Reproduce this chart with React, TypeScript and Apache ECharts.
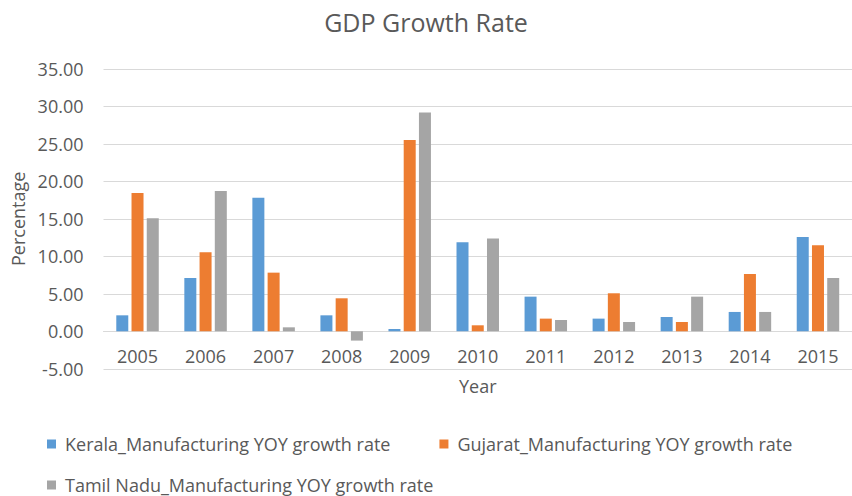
import React, { useEffect, useRef } from "react";
import * as echarts from "echarts";

const years = ["2005", "2006", "2007", "2008", "2009", "2010", "2011", "2012", "2013", "2014", "2015"];
const kerala = [2.13, 7.11, 17.82, 2.13, 0.31, 11.87, 4.62, 1.69, 1.91, 2.58, 12.58];
const gujarat = [18.44, 10.53, 7.82, 4.4, 25.5, 0.8, 1.69, 5.07, 1.24, 7.64, 11.47];
const tamilNadu = [15.07, 18.71, 0.53, -1.24, 29.16, 12.36, 1.51, 1.24, 4.62, 2.58, 7.11];
const seriesNames = [
  "Kerala_Manufacturing YOY growth rate",
  "Gujarat_Manufacturing YOY growth rate",
  "Tamil Nadu_Manufacturing YOY growth rate",
];
const colors = ["#5B9BD5", "#ED7D31", "#A5A5A5"];

const FONT = "'Open Sans', sans-serif";
const TXT = "#595959";

export default function App() {
  const ref = useRef<HTMLDivElement>(null);
  useEffect(() => {
    if (!ref.current) return;
    const chart = echarts.init(ref.current, null, { renderer: "svg" });
    const mk = (name: string, data: number[], color: string) => ({
      name,
      type: "bar",
      data,
      barWidth: 12,
      barGap: "27%",
      itemStyle: { color },
    });
    chart.setOption({
      animation: false,
      textStyle: { fontFamily: FONT },
      title: {
        text: "GDP Growth Rate",
        left: "center",
        top: 4,
        textStyle: { fontFamily: FONT, fontSize: 25, fontWeight: "normal", color: TXT },
      },
      legend: [
        {
          data: [seriesNames[0], seriesNames[1]],
          left: 47,
          top: 435,
          padding: 0,
          itemWidth: 9,
          itemHeight: 9,
          itemGap: 49,
          icon: "rect",
          textStyle: { fontFamily: FONT, fontSize: 18, color: TXT, padding: [0, 0, 0, 4] },
        },
        {
          data: [seriesNames[2]],
          left: 47,
          top: 476,
          padding: 0,
          itemWidth: 9,
          itemHeight: 9,
          icon: "rect",
          textStyle: { fontFamily: FONT, fontSize: 18, color: TXT, padding: [0, 0, 0, 4] },
        },
      ],
      grid: { left: 103.5, right: -10.5, top: 68.8, bottom: 127.2, containLabel: false },
      xAxis: {
        type: "category",
        data: years,
        position: "bottom",
        offset: -37.5,
        name: "Year",
        nameLocation: "middle",
        nameGap: 46,
        nameTextStyle: { fontFamily: FONT, fontSize: 18, color: TXT },
        axisLine: { onZero: false, lineStyle: { color: "#D9D9D9", width: 1 } },
        axisTick: { show: false },
        axisLabel: { fontFamily: FONT, fontSize: 18, color: TXT, margin: 16 },
      },
      yAxis: {
        type: "value",
        min: -5,
        max: 35,
        interval: 5,
        name: "Percentage",
        nameLocation: "middle",
        nameGap: 72,
        nameTextStyle: { fontFamily: FONT, fontSize: 18, color: TXT },
        axisLine: { show: false },
        axisTick: { show: false },
        splitLine: { lineStyle: { color: "#D9D9D9", width: 1 } },
        axisLabel: {
          fontFamily: FONT,
          fontSize: 18,
          color: TXT,
          margin: 20,
          formatter: (v: number) => v.toFixed(2),
        },
      },
      series: [
        mk(seriesNames[0], kerala, colors[0]),
        mk(seriesNames[1], gujarat, colors[1]),
        mk(seriesNames[2], tamilNadu, colors[2]),
      ],
    });
    return () => chart.dispose();
  }, []);
  return (
    <div
      ref={ref}
      style={{ position: "absolute", left: 0, top: 0, width: 852, height: 496, background: "#fff" }}
    />
  );
}
